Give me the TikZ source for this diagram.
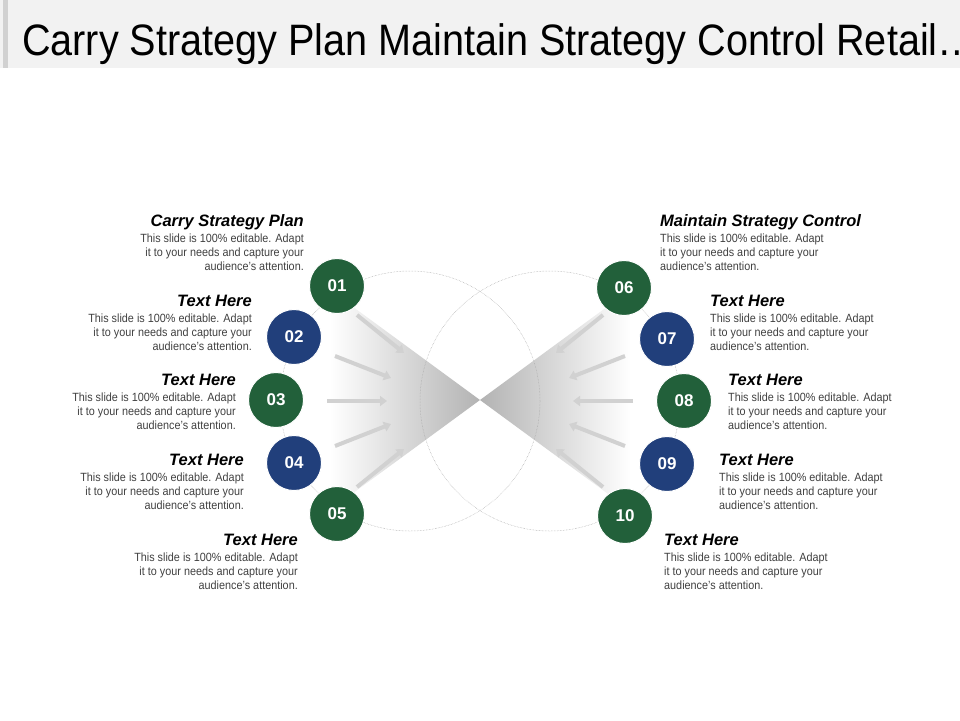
\documentclass[tikz,border=0pt]{standalone}
\usepackage{fontspec}
\setmainfont{Liberation Sans}
\definecolor{dg}{HTML}{22603A}
\definecolor{db}{HTML}{213F7B}
\definecolor{bt}{HTML}{404040}
\tikzset{
 num/.style={circle,minimum size=55pt,inner sep=0pt,text=white,font=\fontsize{17}{17}\selectfont\bfseries,draw=white,line width=1pt},
 g/.style={num,fill=dg}, b/.style={num,fill=db},
 arr/.style={draw=black!18,line width=4pt,-{Triangle[length=7pt,width=10pt]}},
 hd/.style={font=\fontsize{16.5}{16.5}\selectfont\bfseries\itshape,inner sep=0pt},
 bd/.style={font=\fontsize{11.9}{14}\selectfont,text=bt,inner sep=0pt,xscale=0.91,transform shape},
}
\usetikzlibrary{arrows.meta}
\begin{document}
\begin{tikzpicture}[x=1pt,y=-1pt]
\useasboundingbox (0,0) rectangle (960,720);
\fill[black!5] (0,0) rectangle (960,68);
\fill[black!18] (3,0) rectangle (8,68);
\node[anchor=base west,inner sep=0pt,font=\fontsize{44}{44}\selectfont,xscale=0.9,transform shape] (title) at (22,55) {Carry Strategy Plan Maintain Strategy Control Retail\dots};
% funnels
\shade[left color=white,right color=black!30] (330,290) -- (480,400) -- (330,510) -- cycle;
\shade[right color=white,left color=black!30] (630,290) -- (480,400) -- (630,510) -- cycle;
% dotted circles
\draw[black!35,densely dotted,line width=0.5pt] (410,401) circle (130);
\draw[black!35,densely dotted,line width=0.5pt] (550,401) circle (130);
% arrows
\coordinate (a1s) at (357,315); \coordinate (a1e) at (404,353);
\coordinate (a2s) at (335,356); \coordinate (a2e) at (391,378);
\coordinate (a3s) at (327,401); \coordinate (a3e) at (387,401);
\coordinate (a4s) at (335,446); \coordinate (a4e) at (391,424);
\coordinate (a5s) at (357,487); \coordinate (a5e) at (404,449);
\coordinate (b1s) at (603,315); \coordinate (b1e) at (556,353);
\coordinate (b2s) at (625,356); \coordinate (b2e) at (569,378);
\coordinate (b3s) at (633,401); \coordinate (b3e) at (573,401);
\coordinate (b4s) at (625,446); \coordinate (b4e) at (569,424);
\coordinate (b5s) at (603,487); \coordinate (b5e) at (556,449);
\foreach \p in {a1,a2,a3,a4,a5,b1,b2,b3,b4,b5}{\draw[arr] (\p s) -- (\p e);}
% circles
\node[g] (n1) at (337,286) {01};
\node[b] (n2) at (294,337) {02};
\node[g] (n3) at (276,400) {03};
\node[b] (n4) at (294,463) {04};
\node[g] (n5) at (337,514) {05};
\node[g] (n6) at (624,288) {06};
\node[b] (n7) at (667,339) {07};
\node[g] (n8) at (684,401) {08};
\node[b] (n9) at (667,464) {09};
\node[g] (n10) at (625,516) {10};
% texts
\newcommand{\bodyR}{This slide is 100\% editable. Adapt\\it to your needs and capture your\\audience's attention.}
\foreach \x/\y/\t [count=\i] in {304/220/Carry Strategy Plan,252/300/Text Here,236/379/Text Here,244/459/Text Here,298/539/Text Here}{
 \node[hd,anchor=base east] (lh\i) at (\x,\y+6) {\t};
 \node[bd,anchor=north east,align=right] (lb\i) at (\x,\y+14) {\bodyR};
}
\foreach \x/\y/\t [count=\i] in {660/220/Maintain Strategy Control,710/300/Text Here,728/379/Text Here,719/459/Text Here,664/539/Text Here}{
 \node[hd,anchor=base west] (rh\i) at (\x,\y+6) {\t};
 \node[bd,anchor=north west,align=left] (rb\i) at (\x,\y+14) {\bodyR};
}
\end{tikzpicture}
\end{document}
